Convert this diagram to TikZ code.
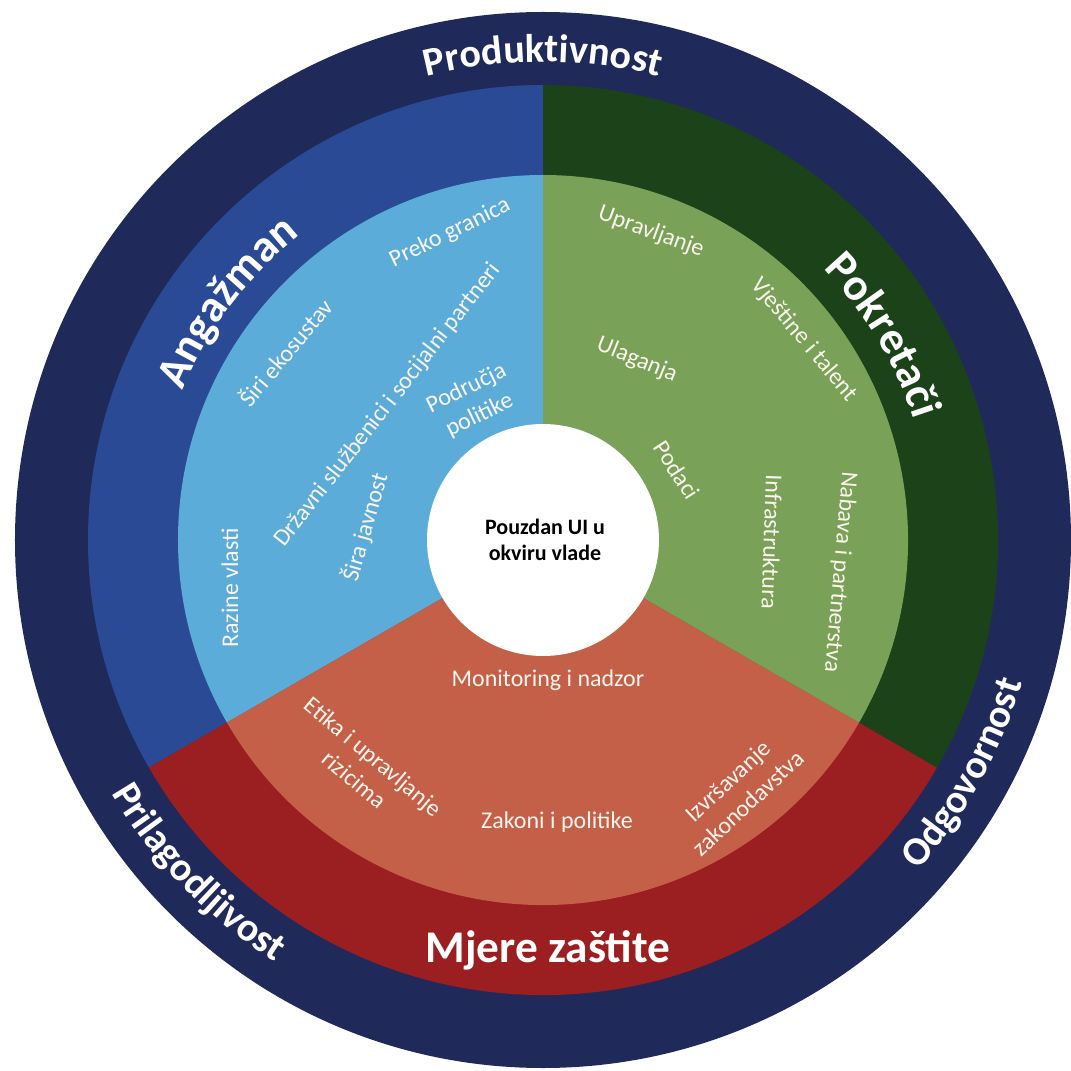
\documentclass[tikz,border=0pt]{standalone}
\usepackage{fontspec}
\setmainfont{Carlito}
\usetikzlibrary{decorations.text}
\definecolor{navyring}{HTML}{202A5A}
\definecolor{blueD}{HTML}{2A4A96}
\definecolor{blueL}{HTML}{5CACDA}
\definecolor{greenD}{HTML}{1B4218}
\definecolor{greenL}{HTML}{79A157}
\definecolor{redD}{HTML}{9B1E20}
\definecolor{redL}{HTML}{C56048}
\definecolor{labeltext}{HTML}{FBF5EE}
\newcommand\myringfont{\bfseries\fontsize{30}{30}\selectfont}
\newcommand\mysectorfont{\bfseries\fontsize{34}{34}\selectfont}
\tikzset{
  lbl/.style={text=labeltext, font=\fontsize{18}{22.5}\selectfont, align=center, inner sep=0pt},
  hub/.style={circle, fill=white, minimum size=174, inner sep=0pt, text=black,
              font=\bfseries\fontsize{16.5}{19.5}\selectfont, align=center},
  arctext/.style={decorate, decoration={text along path, text align=center, text color=white, text={#1}}}
}
\begin{document}
\begin{tikzpicture}[x=0.75pt,y=0.75pt]
\useasboundingbox (-543,-531) rectangle (528,540);
% outer ring
\fill[navyring] (0,0) circle (528);
% middle sectors
\fill[blueD] (0,0) -- (90:455) arc (90:210:455) -- cycle;
\fill[redD] (0,0) -- (210:455) arc (210:330:455) -- cycle;
\fill[greenD] (0,0) -- (330:455) arc (330:450:455) -- cycle;
% inner sectors
\fill[blueL] (0,0) -- (90:365) arc (90:210:365) -- cycle;
\fill[redL] (0,0) -- (210:365) arc (210:330:365) -- cycle;
\fill[greenL] (0,0) -- (330:365) arc (330:450:365) -- cycle;
% hub
\node[hub] (hub) at (0,0) {};
\node[text=black, font=\bfseries\fontsize{16.5}{19.5}\selectfont, align=center, inner sep=0pt] (hubtext) at (2,0) {Pouzdan UI u\\okviru vlade};
% outer ring labels
\path[arctext={|\myringfont|Produktivnost}] (125:478) arc (125:55:478);
\path[arctext={|\myringfont|Odgovornost}] (-64:500) arc (-64:6:500);
\path[arctext={|\myringfont|Prilagodljivost}] (189:500) arc (189:259:500);
% sector labels
\path[arctext={|\mysectorfont|Angažman}] (178:390) arc (178:108:390);
\path[arctext={|\mysectorfont|Pokretači}] (66:390) arc (66:-4:390);
\node[text=white, font=\mysectorfont, inner sep=0pt, anchor=base] (mjere) at (5,-422) {Mjere zaštite};
% blue sector
\node[lbl, rotate=26] (preko) at (-93,307) {Preko granica};
\node[lbl, rotate=50] (siri) at (-258,188) {Širi ekosustav};
\node[lbl, rotate=52] (drzavni) at (-155,135) {Državni službenici i socijalni partneri};
\node[lbl, rotate=26] (podrucja) at (-70,138) {Područja\\politike};
\node[lbl, rotate=90] (razine) at (-313,-48) {Razine vlasti};
\node[lbl, rotate=74] (javnost) at (-178,13) {Šira javnost};
% green sector
\node[lbl, rotate=-20] (upravljanje) at (108,308) {Upravljanje};
\node[lbl, rotate=-50] (vjestine) at (261,200) {Vještine i talent};
\node[lbl, rotate=-22] (ulaganja) at (94,180) {Ulaganja};
\node[lbl, rotate=-57] (podaci) at (134,70) {Podaci};
\node[lbl, rotate=-92] (infra) at (229,-2) {Infrastruktura};
\node[lbl, rotate=-95] (nabava) at (297,-32) {Nabava i partnerstva};
% red sector
\node[lbl] (monitoring) at (5,-140) {Monitoring i nadzor};
\node[lbl] (zakoni) at (14,-282) {Zakoni i politike};
\node[lbl, rotate=-40] (etika) at (-179,-228) {Etika i upravljanje\\rizicima};
\node[lbl, rotate=43] (izvrsavanje) at (195,-252) {Izvršavanje\\zakonodavstva};
\end{tikzpicture}
\end{document}
